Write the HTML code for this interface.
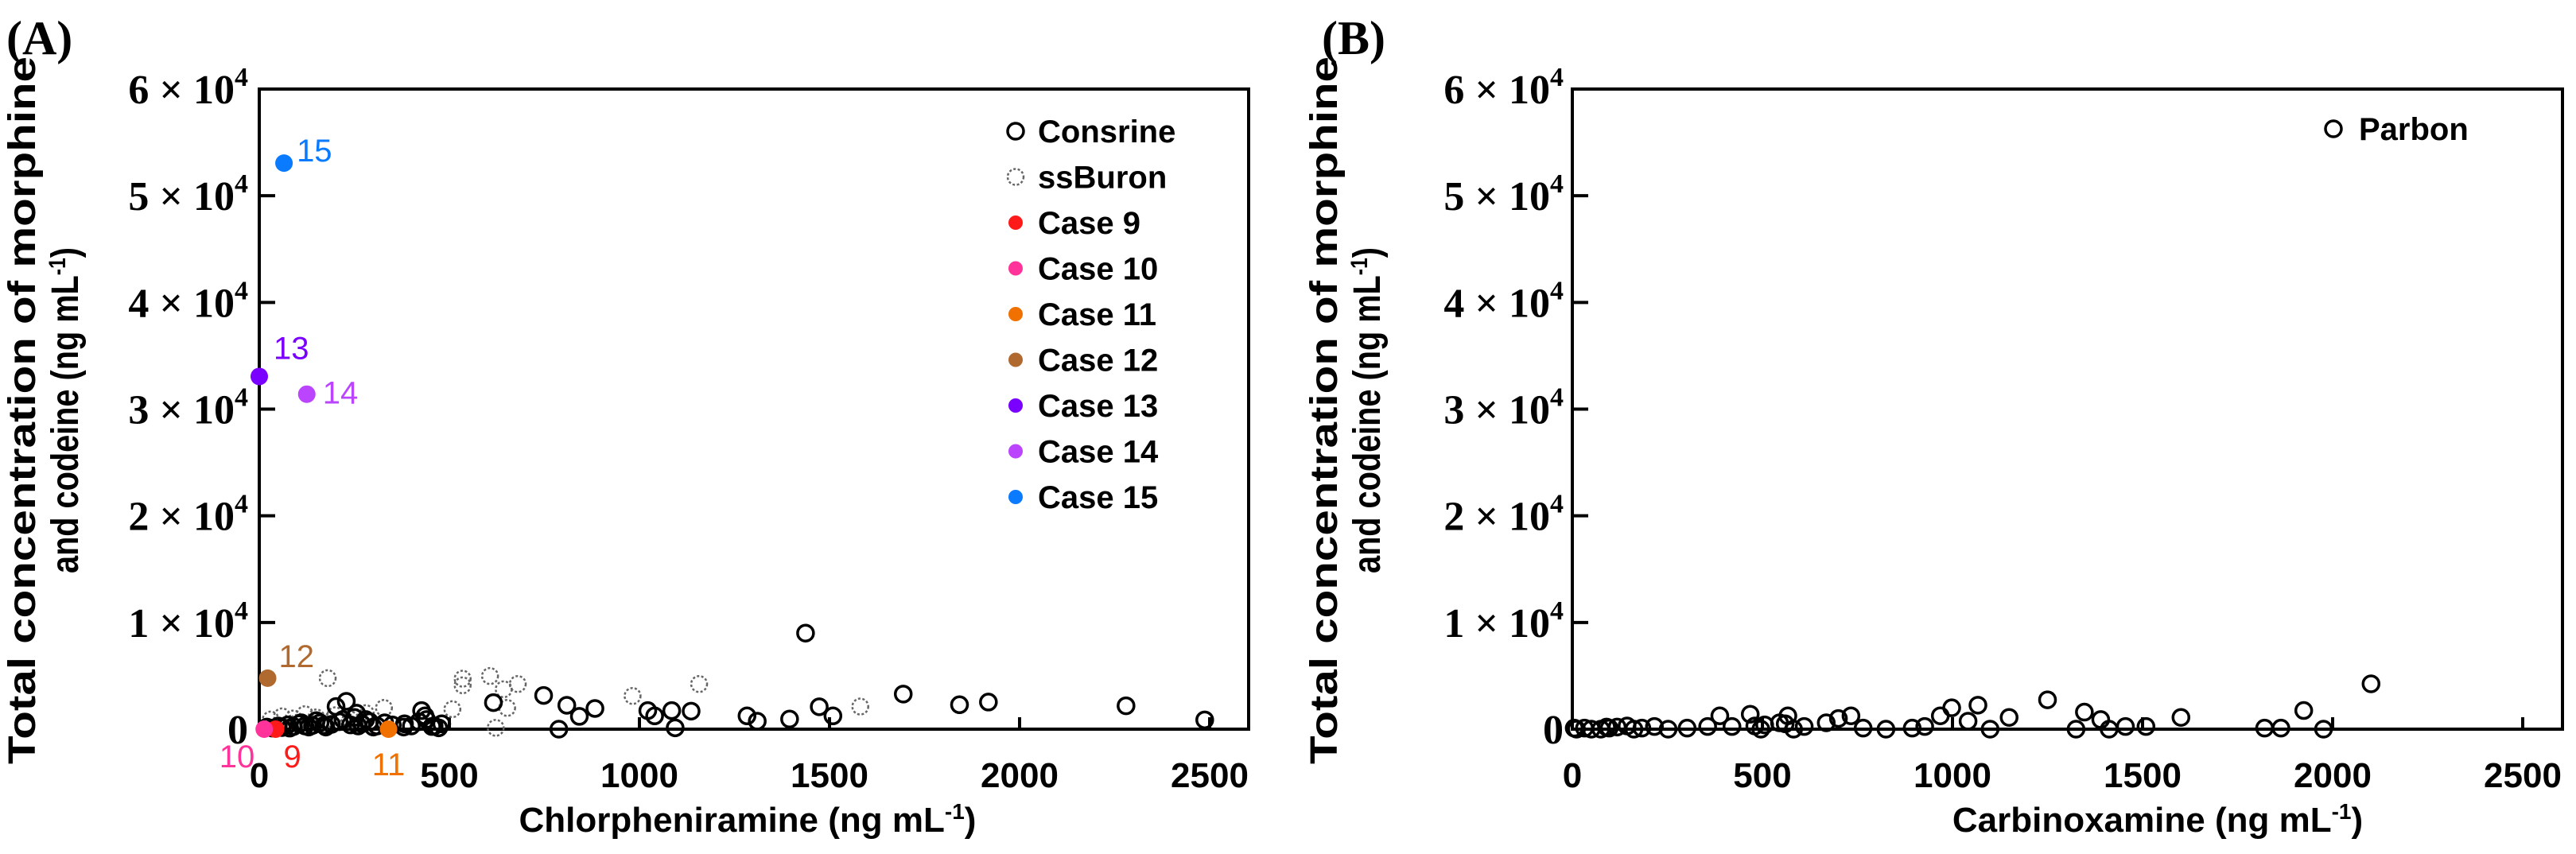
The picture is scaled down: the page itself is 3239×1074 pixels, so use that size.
<!DOCTYPE html>
<html><head><meta charset="utf-8"><style>
html,body{margin:0;padding:0;background:#fff;}
svg{display:block;}
.tick{font-family:"Liberation Serif",serif;font-weight:bold;font-size:52px;}
.xtick{font-family:"Liberation Sans",sans-serif;font-weight:bold;font-size:44px;}
.sans{font-family:"Liberation Sans",sans-serif;font-weight:bold;}
</style></head><body>
<svg id="fig" width="3239" height="1074" viewBox="0 0 3239 1074" xmlns="http://www.w3.org/2000/svg">
<g id="panelA"></g>
<g id="panelB"></g>
</svg>
<script>
// ---- data ----
const xTicks = [0, 500, 1000, 1500, 2000, 2500];
const yTicks = [0, 1, 2, 3, 4, 5, 6]; // ×10^4
const consrineX = [1437,748,616,809,883,842,788,1022,1040,1085,1136,1094,1283,1310,1395,1473,1509,1694,1842,1918,2280,2487,229,202,256,427,436,454,472,382,20,35,50,60,75,90,105,120,140,160,175,190,210,240,260,280,300,150,110,80,130,170,220,250,270,290,310,330,350,380,400,420,440,460,480];
const consrineY = [9000,3160,2490,2240,1940,1200,0,1740,1245,1740,1690,125,1245,750,950,2100,1245,3290,2290,2540,2190,870,2610,2120,1500,1740,1245,250,125,500,200,100,300,150,400,250,500,300,350,600,200,450,700,400,300,900,200,800,600,100,200,350,900,1100,500,700,300,600,400,200,300,700,900,300,500];
const ssburonX = [180,535,607,535,680,643,982,1157,652,622,1581,508,328,30,60,90,120,150,200,240,280,100,170,260];
const ssburonY = [4780,4730,4980,4110,4230,3740,3110,4230,1990,125,2120,1870,1990,900,1200,1000,1400,1100,1300,900,1500,600,700,1100];
const caseNames = ["Case 9","Case 10","Case 11","Case 12","Case 13","Case 14","Case 15"];
const caseLabels = ["9","10","11","12","13","14","15"];
const caseX = [43, 13, 340, 22, 0, 125, 65];
const caseY = [0, 0, 0, 4780, 33060, 31400, 53060];
const caseColors = ["#ff1a1a","#ff3399","#f07000","#b06a30","#7a00ff","#bb44ff","#0a7aff"];
const parbonX = [2101,1250,1924,1067,998,1347,968,1149,1601,1390,1041,733,700,388,468,567,545,1099,1325,1412,1455,1509,1821,1864,1976,765,825,894,927,610,506,420,356,302,252,216,183,11,32,75,118,144,97,162,496,480,560,668,582,5,50,90];
const parbonY = [4250,2750,1750,2250,2000,1600,1250,1100,1100,900,750,1250,1000,1250,1400,1250,600,0,0,0,250,250,100,100,0,100,0,100,250,250,400,250,250,100,0,250,100,0,100,0,200,300,100,0,0,300,500,600,0,100,0,200];

const NS = "http://www.w3.org/2000/svg";
function mk(parent, tag, attrs, text) {
  const e = document.createElementNS(NS, tag);
  for (const k in attrs) e.setAttribute(k, attrs[k]);
  if (text !== undefined) e.textContent = text;
  parent.appendChild(e);
  return e;
}

function drawPanel(g, cfg) {
  const L = cfg.left, R = cfg.right, T = 112, B = 917;
  const sx = v => L + v * 0.478;
  const sy = v => B - v / 10000 * ((B - T) / 6);
  let pl = mk(g, "text", {x: cfg.labelX, y: 68, "font-family": "Liberation Serif, serif", "font-weight": "bold", "font-size": "60"}, cfg.label);
  
  
  let fr = mk(g, "rect", {x: L, y: T, width: R - L, height: B - T, fill: "none", stroke: "#000", "stroke-width": 4});
  
  
  yTicks.forEach(t => {
    const y = sy(t * 10000);
    if (t > 0 && t < 6) mk(g, "line", {x1: L, x2: L + 20, y1: y, y2: y, stroke: "#000", "stroke-width": 4});
    const tx = mk(g, "text", {x: cfg.tickRight, y: y + 18, "text-anchor": "end", class: "tick"});
    
    
    if (t === 0) { tx.textContent = "0"; }
    else {
      tx.appendChild(document.createTextNode(t + " \u00d7 10"));
      mk(tx, "tspan", {dy: -22, "font-size": "34"}, "4");
    }
  });
  xTicks.forEach(t => {
    const x = sx(t);
    if (t > 0) mk(g, "line", {x1: x, x2: x, y1: B, y2: B - 15, stroke: "#000", "stroke-width": 4});
    const tx = mk(g, "text", {x: x, y: 990, "text-anchor": "middle", class: "xtick"}, String(t));
    
    
  });
  const xt = mk(g, "text", {x: cfg.xTitleX, y: 1046, "text-anchor": "middle", class: "sans", "font-size": "44"});
  
  
  xt.appendChild(document.createTextNode(cfg.xTitle + " (ng mL"));
  mk(xt, "tspan", {dy: -16, "font-size": "28"}, "-1");
  mk(xt, "tspan", {dy: 16}, ")");
  const yg = mk(g, "g", {transform: "rotate(-90)"});
  
  
  mk(yg, "text", {x: -516, y: cfg.yTitleX1, "text-anchor": "middle", class: "sans", "font-size": "48", textLength: 890, lengthAdjust: "spacingAndGlyphs"}, "Total concentration of morphine");
  const y2 = mk(yg, "text", {x: -516, y: cfg.yTitleX2, "text-anchor": "middle", class: "sans", "font-size": "48", textLength: 410, lengthAdjust: "spacingAndGlyphs"});
  y2.appendChild(document.createTextNode("and codeine (ng mL"));
  mk(y2, "tspan", {dy: -16, "font-size": "30"}, "-1");
  mk(y2, "tspan", {dy: 16}, ")");
  return {sx, sy};
}

// Panel A
const gA = document.getElementById("panelA");
const A = drawPanel(gA, {left: 326, right: 1570, label: "(A)", labelX: 8, tickRight: 312, xTitle: "Chlorpheniramine", xTitleX: 940, yTitleX1: 44, yTitleX2: 98});
ssburonX.forEach((v, i) => {
  const c = mk(gA, "circle", {cx: A.sx(v), cy: A.sy(ssburonY[i]), r: 10, fill: "none", stroke: "#666", "stroke-width": 2.5, "stroke-dasharray": "3 2.5"});
  
  
});
consrineX.forEach((v, i) => {
  const c = mk(gA, "circle", {cx: A.sx(v), cy: A.sy(consrineY[i]), r: 10, fill: "none", stroke: "#000", "stroke-width": 3.5});
  
  
});
const labOff = [[10,48,"start"],[-12,48,"end"],[0,58,"middle"],[14,-14,"start"],[18,-22,"start"],[20,12,"start"],[16,-2,"start"]];
caseX.forEach((v, i) => {
  const cx = A.sx(v), cy = A.sy(caseY[i]);
  const c = mk(gA, "circle", {cx: cx, cy: cy, r: 11, fill: caseColors[i]});
  
  
  const o = labOff[i];
  const t = mk(gA, "text", {x: cx + o[0], y: cy + o[1], "text-anchor": o[2], "font-family": "Liberation Sans, sans-serif", "font-size": "40", fill: caseColors[i]}, caseLabels[i]);
  
  
});
const legA = mk(gA, "g", {});


const legNames = ["Consrine", "ssBuron"].concat(caseNames);
legNames.forEach((n, i) => {
  const y = 165 + i * 57.5;
  let m;
  if (i === 0) m = mk(legA, "circle", {cx: 1277, cy: y, r: 10, fill: "none", stroke: "#000", "stroke-width": 3.5});
  else if (i === 1) m = mk(legA, "circle", {cx: 1277, cy: y, r: 10, fill: "none", stroke: "#666", "stroke-width": 2.5, "stroke-dasharray": "3 2.5"});
  else m = mk(legA, "circle", {cx: 1277, cy: y, r: 9, fill: caseColors[i - 2]});
  
  
  const t = mk(legA, "text", {x: 1305, y: y + 14, class: "sans", "font-size": "40"}, n);
  
  
});

// Panel B
const gB = document.getElementById("panelB");
const Bp = drawPanel(gB, {left: 1977, right: 3222, label: "(B)", labelX: 1662, tickRight: 1966, xTitle: "Carbinoxamine", xTitleX: 2713, yTitleX1: 1681, yTitleX2: 1735});
parbonX.forEach((v, i) => {
  const c = mk(gB, "circle", {cx: Bp.sx(v), cy: Bp.sy(parbonY[i]), r: 10, fill: "none", stroke: "#000", "stroke-width": 3.5});
  
  
});
const lm = mk(gB, "circle", {cx: 2934, cy: 162, r: 10, fill: "none", stroke: "#000", "stroke-width": 3.5});


const lt = mk(gB, "text", {x: 2966, y: 176, class: "sans", "font-size": "40"}, "Parbon");


</script>
</body></html>
